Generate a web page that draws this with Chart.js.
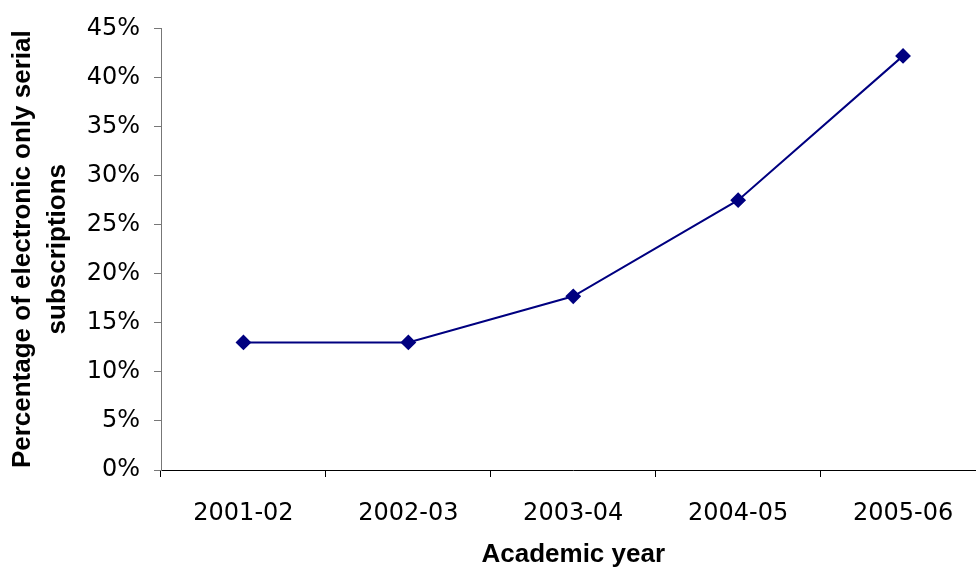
<!DOCTYPE html>
<html>
<head>
<meta charset="utf-8">
<script src="https://cdn.jsdelivr.net/npm/chart.js@4/dist/chart.umd.min.js"></script>
<style>
html, body { margin: 0; padding: 0; background: #fff; overflow: hidden; }
#wrap { width: 994px; height: 568px; }
</style>
</head>
<body>
<div id="wrap"><canvas id="lineChart" width="994" height="568"></canvas></div>
<script>
// academic years and share of e-only serial subscriptions (%)
var years = ["2001-02", "2002-03", "2003-04", "2004-05", "2005-06"];
var eOnlyPct = [13.0, 13.0, 17.7, 27.5, 42.2];
var yMin = 0, yMax = 45, yStep = 5;

var tickFont = { family: "'DejaVu Sans', Arial", size: 24 };

var ctx = document.getElementById("lineChart").getContext('2d');
var myLineChart = new Chart(ctx, {
type: 'line',
data: {
labels: years,
datasets: [{
data: eOnlyPct,
borderColor: "#000080",
backgroundColor: "#000080",
borderWidth: 2,
pointStyle: 'rectRot',
pointRadius: 6.5,
pointHoverRadius: 6.5,
tension: 0,
fill: false
}]
},
options: {
responsive: false,
animation: false,
layout: { padding: { top: 28, right: 6, bottom: 0, left: 0 } },
plugins: { legend: { display: false }, tooltip: { enabled: false } },
scales: {
x: {
offset: true,
grid: { display: true, offset: true, drawOnChartArea: false, drawTicks: true, tickLength: 7, color: "#000" },
border: { color: "#000", width: 1 },
ticks: { color: "#000", padding: 22, font: tickFont, maxRotation: 0 },
title: { display: true, text: "Academic year", color: "#000", padding: { top: 0, bottom: 0 },
font: { family: "Arial, 'Liberation Sans'", size: 26, weight: 'bold', lineHeight: 1 } },
afterFit: function(axis) { axis.height = 98; }
},
y: {
min: yMin, max: yMax,
grid: { display: true, drawOnChartArea: false, drawTicks: true, tickLength: 7, color: "#777" },
border: { color: "#777", width: 1 },
ticks: { stepSize: yStep, color: "#000", padding: 14, font: tickFont,
callback: function(v) { return v + "%"; } },
title: { display: true, text: ["Percentage of electronic only serial", "subscriptions"], color: "#000",
padding: { top: 5, bottom: 0 },
font: { family: "Arial, 'Liberation Sans'", size: 26, weight: 'bold', lineHeight: 1.35 } },
afterFit: function(axis) { axis.width = 161; }
}
}
}
});
</script>
</body>
</html>
